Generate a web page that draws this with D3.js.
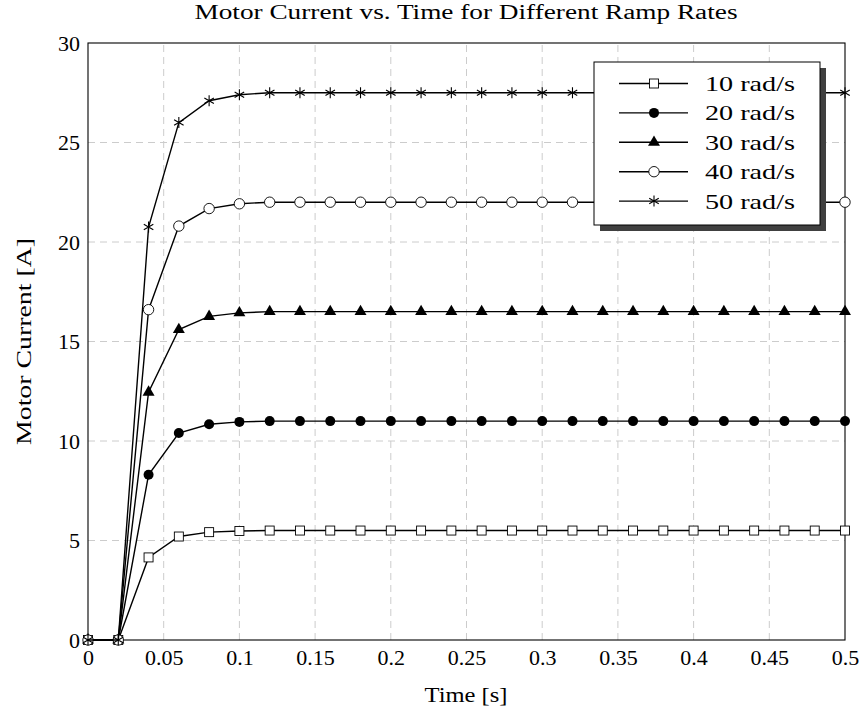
<!DOCTYPE html>
<html>
<head>
<script src="https://d3js.org/d3.v7.js"></script>
<style>
  body { margin: 0; background: #fff; }
  text { font-family: "Liberation Serif", serif; fill: #000; }
</style>
</head>
<body>
<div id="chart"></div>
<script>
const times = [0, 0.02, 0.04, 0.06, 0.08, 0.1, 0.12, 0.14, 0.16, 0.18, 0.2, 0.22, 0.24,
               0.26, 0.28, 0.3, 0.32, 0.34, 0.36, 0.38, 0.4, 0.42, 0.44, 0.46, 0.48, 0.5]

const current10 = [0, 0, 4.15, 5.2, 5.42, 5.48, 5.5, 5.5, 5.5, 5.5, 5.5, 5.5, 5.5,
                   5.5, 5.5, 5.5, 5.5, 5.5, 5.5, 5.5, 5.5, 5.5, 5.5, 5.5, 5.5, 5.5]
const current20 = [0, 0, 8.3, 10.4, 10.84, 10.96, 11, 11, 11, 11, 11, 11, 11,
                   11, 11, 11, 11, 11, 11, 11, 11, 11, 11, 11, 11, 11]
const current30 = [0, 0, 12.45, 15.6, 16.26, 16.44, 16.5, 16.5, 16.5, 16.5, 16.5, 16.5, 16.5,
                   16.5, 16.5, 16.5, 16.5, 16.5, 16.5, 16.5, 16.5, 16.5, 16.5, 16.5, 16.5, 16.5]
const current40 = [0, 0, 16.6, 20.8, 21.68, 21.92, 22, 22, 22, 22, 22, 22, 22,
                   22, 22, 22, 22, 22, 22, 22, 22, 22, 22, 22, 22, 22]
const current50 = [0, 0, 20.75, 26.0, 27.1, 27.4, 27.5, 27.5, 27.5, 27.5, 27.5, 27.5, 27.5,
                   27.5, 27.5, 27.5, 27.5, 27.5, 27.5, 27.5, 27.5, 27.5, 27.5, 27.5, 27.5, 27.5]

const seriesNames = ['10 rad/s', '20 rad/s', '30 rad/s', '40 rad/s', '50 rad/s']
const seriesMarks = ['square', 'dot', 'triangle', 'circle', 'star']
const xTicks = [0, 0.05, 0.1, 0.15, 0.2, 0.25, 0.3, 0.35, 0.4, 0.45, 0.5]
const yTicks = [0, 5, 10, 15, 20, 25, 30]

const allSeries = [current10, current20, current30, current40, current50]

const w = 861
const h = 710
const m = {left: 88, right: 16, top: 43, bottom: 70}

const svg = d3.select('#chart').append('svg')
    .attr('width', w)
    .attr('height', h)

const x = d3.scaleLinear().domain([0, 0.5]).range([m.left, w - m.right])
const y = d3.scaleLinear().domain([0, 30]).range([h - m.bottom, m.top])

// grid
svg.append('g')
    .selectAll('line.vg')
    .data(xTicks.slice(1, -1))
    .join('line')
    .attr('x1', d => x(d)).attr('x2', d => x(d))
    .attr('y1', y(0)).attr('y2', y(30))
svg.append('g')
    .selectAll('line.hg')
    .data(yTicks.slice(1, -1))
    .join('line')
    .attr('x1', x(0)).attr('x2', x(0.5))
    .attr('y1', d => y(d)).attr('y2', d => y(d))
svg.selectAll('g line')
    .attr('stroke', '#cccccc')
    .attr('stroke-width', 1)
    .attr('stroke-dasharray', '7,5')

// axes (no tick marks, labels only)
const xAxis = svg.append('g')
    .attr('transform', `translate(0,${y(0)})`)
    .call(d3.axisBottom(x).tickValues(xTicks).tickSize(0).tickPadding(9)
        .tickFormat(d => d3.format('')(+d.toFixed(2))))
xAxis.select('.domain').remove()
xAxis.selectAll('text').attr('font-size', 22).attr('font-family', '"Liberation Serif", serif')

const yAxis = svg.append('g')
    .attr('transform', `translate(${x(0)},0)`)
    .call(d3.axisLeft(y).tickValues(yTicks).tickSize(0).tickPadding(8))
yAxis.select('.domain').remove()
yAxis.selectAll('text').attr('font-size', 22).attr('font-family', '"Liberation Serif", serif')

// frame
svg.append('rect')
    .attr('x', x(0)).attr('y', y(30))
    .attr('width', x(0.5) - x(0)).attr('height', y(0) - y(30))
    .attr('fill', 'none').attr('stroke', '#000').attr('stroke-width', 1.1)

function drawMark(g, type) {
    if (type === 'square') {
        g.append('rect').attr('x', -4.5).attr('y', -4.5).attr('width', 9).attr('height', 9)
            .attr('fill', '#fff').attr('stroke', '#000').attr('stroke-width', 0.9)
    } else if (type === 'dot') {
        g.append('circle').attr('r', 5).attr('fill', '#000')
    } else if (type === 'triangle') {
        g.append('path').attr('d', d3.symbol(d3.symbolTriangle, 62)()).attr('fill', '#000')
    } else if (type === 'circle') {
        g.append('circle').attr('r', 5.2).attr('fill', '#fff').attr('stroke', '#000').attr('stroke-width', 0.9)
    } else {
        const r = 5.5
        const a = Math.cos(Math.PI / 6) * r
        const b = Math.sin(Math.PI / 6) * r
        g.append('path')
            .attr('d', `M0,${-r}L0,${r}M${-a},${-b}L${a},${b}M${-a},${b}L${a},${-b}`)
            .attr('stroke', '#000').attr('stroke-width', 1.1).attr('fill', 'none')
    }
}

const line = d3.line().x(d => x(d[0])).y(d => y(d[1]))

allSeries.forEach((vals, i) => {
    const pts = times.map((t, j) => [t, vals[j]])
    svg.append('path')
        .datum(pts)
        .attr('d', line)
        .attr('fill', 'none')
        .attr('stroke', '#000')
        .attr('stroke-width', 1.4)
    svg.append('g')
        .selectAll('g')
        .data(pts)
        .join('g')
        .attr('transform', d => `translate(${x(d[0])},${y(d[1])})`)
        .each(function() { drawMark(d3.select(this), seriesMarks[i]) })
})

// legend
const lg = svg.append('g').attr('transform', 'translate(594,62)')
lg.append('rect').attr('x', 6).attr('y', 6).attr('width', 226).attr('height', 163).attr('fill', '#404040')
lg.append('rect').attr('width', 226).attr('height', 163)
    .attr('fill', '#fff').attr('stroke', '#000').attr('stroke-width', 1)
seriesNames.forEach((name, i) => {
    const yy = 21.5 + i * 29.4
    lg.append('line').attr('x1', 25).attr('x2', 94).attr('y1', yy).attr('y2', yy)
        .attr('stroke', '#000').attr('stroke-width', 1.4)
    drawMark(lg.append('g').attr('transform', `translate(60,${yy})`), seriesMarks[i])
    lg.append('text').attr('x', 111).attr('y', yy).attr('dy', '0.34em')
        .attr('font-size', 22).attr('textLength', 90).attr('lengthAdjust', 'spacingAndGlyphs')
        .text(name)
})

// title and axis labels
svg.append('text').attr('x', 466).attr('y', 19)
    .attr('text-anchor', 'middle').attr('font-size', 20)
    .attr('textLength', 543).attr('lengthAdjust', 'spacingAndGlyphs')
    .text('Motor Current vs. Time for Different Ramp Rates')
svg.append('text').attr('x', 466).attr('y', 702)
    .attr('text-anchor', 'middle').attr('font-size', 22)
    .attr('textLength', 83).attr('lengthAdjust', 'spacingAndGlyphs')
    .text('Time [s]')
svg.append('text')
    .attr('transform', `translate(31,${(y(0) + y(30)) / 2}) rotate(-90)`)
    .attr('text-anchor', 'middle').attr('font-size', 22)
    .attr('textLength', 207).attr('lengthAdjust', 'spacingAndGlyphs')
    .text('Motor Current [A]')
</script>
</body>
</html>
